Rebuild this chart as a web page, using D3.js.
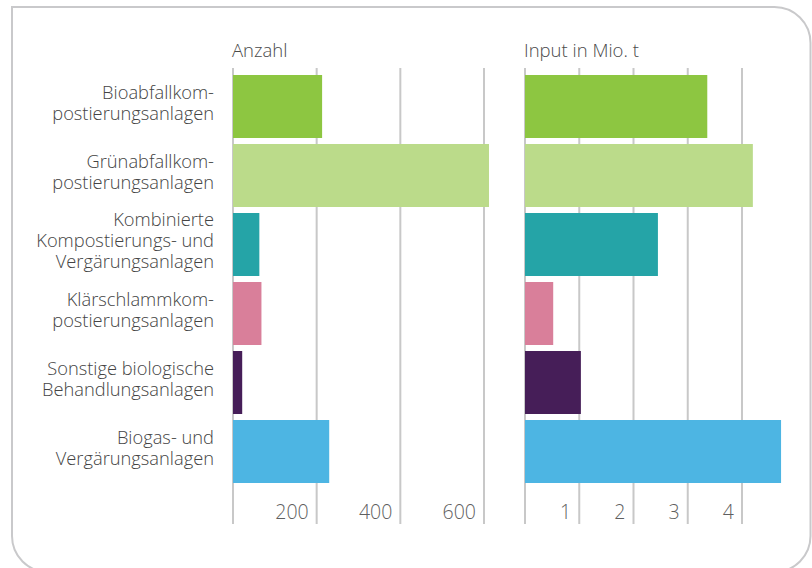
<!DOCTYPE html>
<html>
<head>
<meta charset="utf-8">
<script src="https://cdn.jsdelivr.net/npm/d3@7"></script>
<style>
  body { margin: 0; background: #fff; }
  svg { display: block; font-family: "Open Sans", sans-serif; }
</style>
</head>
<body>
<div id="chart"></div>
<script>
// categories (label lines)
var categories = [
  ["Bioabfallkom-", "postierungsanlagen"],
  ["Grünabfallkom-", "postierungsanlagen"],
  ["Kombinierte", "Kompostierungs- und", "Vergärungsanlagen"],
  ["Klärschlammkom-", "postierungsanlagen"],
  ["Sonstige biologische", "Behandlungsanlagen"],
  ["Biogas- und", "Vergärungsanlagen"]
]
var anzahl = [213, 612, 63, 68, 22, 230]
var inputMioT = [3.36, 4.2, 2.45, 0.52, 1.03, 4.72]
var colors = ["#8dc641", "#bbdb8a", "#25a4a7", "#d97f9a", "#461e58", "#4db5e3"]

var anzahlTicks = [0, 200, 400, 600]
var inputTicks = [0, 1, 2, 3, 4]
var titles = ["Anzahl", "Input in Mio. t"]

var width = 812
var height = 568

var svg = d3.select("#chart")
  .append("svg")
  .attr("width", width)
  .attr("height", height)

// frame, square top-left corner, the rest rounded
var fx0 = 12, fy0 = 7, fx1 = 810.5, fy1 = 572, r = 36
var frame = d3.path()
frame.moveTo(fx0, fy0)
frame.lineTo(fx1 - r, fy0)
frame.arcTo(fx1, fy0, fx1, fy0 + r, r)
frame.lineTo(fx1, fy1 - r)
frame.arcTo(fx1, fy1, fx1 - r, fy1, r)
frame.lineTo(fx0 + r, fy1)
frame.arcTo(fx0, fy1, fx0, fy1 - r, r)
frame.closePath()

svg.append("path")
  .attr("d", frame.toString())
  .attr("fill", "none")
  .attr("stroke", "#c9c9cb")
  .attr("stroke-width", 2)

var idx = d3.range(categories.length)

var y = d3.scaleBand()
  .domain(idx)
  .range([75, 483])
  .paddingInner(0.087)
  .paddingOuter(0)

var gridTop = 68
var gridBottom = 524

var panels = [
  { values: anzahl, ticks: anzahlTicks, title: titles[0],
    x: d3.scaleLinear().domain([0, 600]).range([233, 484]) },
  { values: inputMioT, ticks: inputTicks, title: titles[1],
    x: d3.scaleLinear().domain([0, 4]).range([525, 742]) }
]

panels.forEach(function (p) {
  var g = svg.append("g")

  //gridlines
  g.selectAll(".grid")
    .data(p.ticks)
    .enter()
    .append("line")
    .attr("x1", function (d) { return p.x(d) })
    .attr("x2", function (d) { return p.x(d) })
    .attr("y1", gridTop)
    .attr("y2", gridBottom)
    .attr("stroke", "#c8c8c8")
    .attr("stroke-width", 2)

  //tick labels sit left of their gridline
  g.selectAll(".tick")
    .data(p.ticks.filter(function (d) { return d > 0 }))
    .enter()
    .append("text")
    .attr("x", function (d) { return p.x(d) - 8 })
    .attr("y", 519)
    .attr("text-anchor", "end")
    .attr("font-size", 19.5)
    .attr("font-weight", 300)
    .attr("fill", "#5f5f5f")
    .text(function (d) { return d })

  g.selectAll(".bar")
    .data(idx)
    .enter()
    .append("rect")
    .attr("x", p.x(0))
    .attr("y", function (i) { return y(i) })
    .attr("width", function (i) { return p.x(p.values[i]) - p.x(0) })
    .attr("height", y.bandwidth())
    .attr("fill", function (i) { return colors[i] })

  g.append("text")
    .attr("x", p.x(0) - 1)
    .attr("y", 57)
    .attr("font-size", 18.5)
    .attr("font-weight", 300)
    .attr("fill", "#4a4a4a")
    .text(p.title)
})

//category labels
var lineHeight = 21
var labels = svg.selectAll(".label")
  .data(idx)
  .enter()
  .append("text")
  .attr("text-anchor", "end")
  .attr("font-size", 18.3)
  .attr("font-weight", 300)
  .attr("fill", "#444")

labels.each(function (i) {
  var lines = categories[i]
  var c = y(i) + y.bandwidth() / 2
  var first = c - (lines.length - 1) * lineHeight / 2 + 3
  d3.select(this).selectAll("tspan")
    .data(lines)
    .enter()
    .append("tspan")
    .attr("x", 214)
    .attr("y", function (d, k) { return first + k * lineHeight })
    .text(function (d) { return d })
})
</script>
</body>
</html>
